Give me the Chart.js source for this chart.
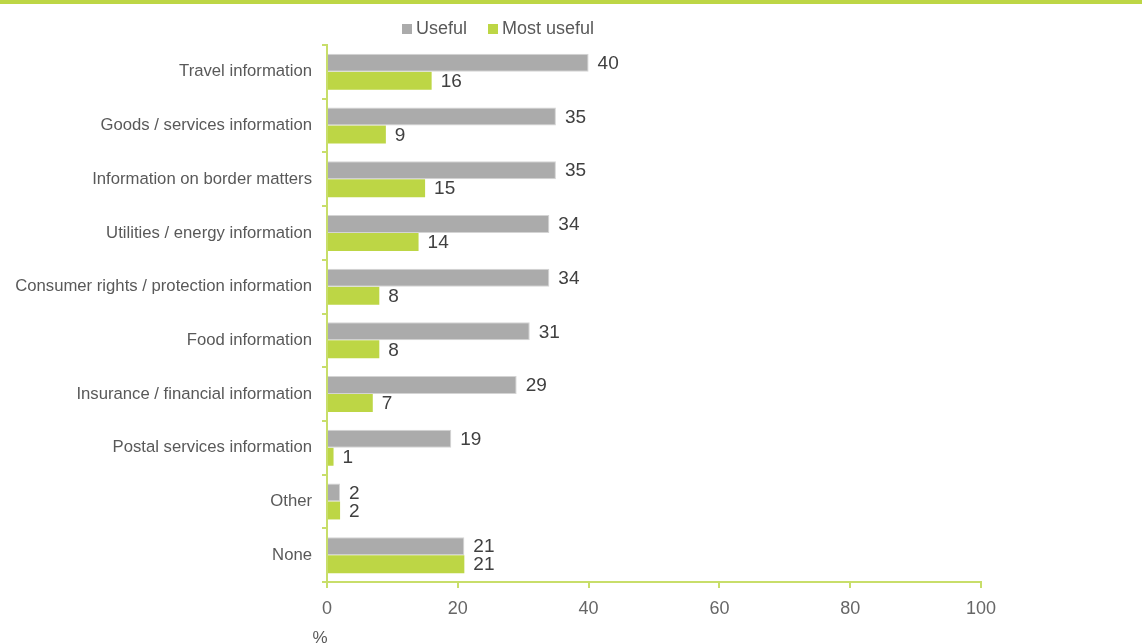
<!DOCTYPE html>
<html>
<head>
<meta charset="utf-8">
<script src="https://cdn.jsdelivr.net/npm/chart.js@4/dist/chart.umd.min.js"></script>
<style>
  html, body { margin: 0; padding: 0; background: #ffffff; }
  #wrap { width: 1142px; height: 644px; position: relative; }
</style>
</head>
<body>
<div id="wrap"><canvas id="c" width="1142" height="644"></canvas></div>
<script>
const categories = [
  'Travel information',
  'Goods / services information',
  'Information on border matters',
  'Utilities / energy information',
  'Consumer rights / protection information',
  'Food information',
  'Insurance / financial information',
  'Postal services information',
  'Other',
  'None'
];
const useful = [40, 35, 35, 34, 34, 31, 29, 19, 2, 21];
const mostUseful = [16, 9, 15, 14, 8, 8, 7, 1, 2, 21];
const xTicks = [0, 20, 40, 60, 80, 100];
const seriesNames = ['Useful', 'Most useful'];

const GREY = '#ababab';
const GREEN = '#bdd645';
const AXIS = '#c8de6a';
const TEXT = '#595959';
const FONT = "'Liberation Sans', Arial, sans-serif";

// Top rule, legend, value labels and the unit label
const decor = {
  id: 'decor',
  beforeDraw(chart) {
    const ctx = chart.ctx;
    ctx.save();
    ctx.fillStyle = GREEN;
    ctx.fillRect(0, 0, chart.width, 4);
    ctx.restore();
  },
  afterDatasetsDraw(chart) {
    const ctx = chart.ctx;
    ctx.save();
    ctx.font = '19px ' + FONT;
    ctx.fillStyle = '#404040';
    ctx.textBaseline = 'middle';
    ctx.textAlign = 'left';
    chart.data.datasets.forEach((ds, i) => {
      const meta = chart.getDatasetMeta(i);
      meta.data.forEach((bar, j) => {
        ctx.fillText(String(ds.data[j]), bar.x + 9, bar.y + 1);
      });
    });
    // legend
    ctx.font = '18px ' + FONT;
    ctx.textBaseline = 'alphabetic';
    const colors = [GREY, GREEN];
    const boxX = [402, 488];
    seriesNames.forEach((name, i) => {
      ctx.fillStyle = colors[i];
      ctx.fillRect(boxX[i], 24, 10, 10);
      ctx.fillStyle = TEXT;
      ctx.fillText(name, boxX[i] + 14, 34);
    });
    // unit
    ctx.font = '17px ' + FONT;
    ctx.fillStyle = TEXT;
    ctx.textAlign = 'center';
    ctx.fillText('%', 320, 643);
    ctx.restore();
  }
};

new Chart(document.getElementById('c'), {
  type: 'bar',
  data: {
    labels: categories,
    datasets: [
      {
        label: seriesNames[0],
        data: useful,
        backgroundColor: GREY,
        borderColor: '#d4d4d4',
        borderWidth: 1,
        categoryPercentage: 0.67,
        barPercentage: 1.0
      },
      {
        label: seriesNames[1],
        data: mostUseful,
        backgroundColor: GREEN,
        borderColor: GREEN,
        borderWidth: 0,
        categoryPercentage: 0.67,
        barPercentage: 1.0
      }
    ]
  },
  options: {
    indexAxis: 'y',
    responsive: false,
    animation: false,
    layout: { padding: { left: 0, right: 161, top: 45, bottom: 0 } },
    plugins: {
      legend: { display: false },
      tooltip: { enabled: false }
    },
    scales: {
      x: {
        min: 0,
        max: 100,
        afterBuildTicks(scale) {
          scale.ticks = xTicks.map(v => ({ value: v }));
        },
        afterFit(scale) { scale.height = 62; },
        border: { color: AXIS, width: 2 },
        grid: {
          drawOnChartArea: false,
          color: AXIS,
          lineWidth: 2,
          tickLength: 6
        },
        ticks: {
          color: '#666666',
          font: { family: FONT, size: 18 },
          padding: 10
        }
      },
      y: {
        afterFit(scale) { scale.width = 327; },
        border: { color: AXIS, width: 2 },
        grid: {
          drawOnChartArea: false,
          offset: true,
          color: AXIS,
          lineWidth: 2,
          tickLength: 5
        },
        ticks: {
          color: TEXT,
          font: { family: FONT, size: 16.7 },
          padding: 10
        }
      }
    }
  },
  plugins: [decor]
});
</script>
</body>
</html>
